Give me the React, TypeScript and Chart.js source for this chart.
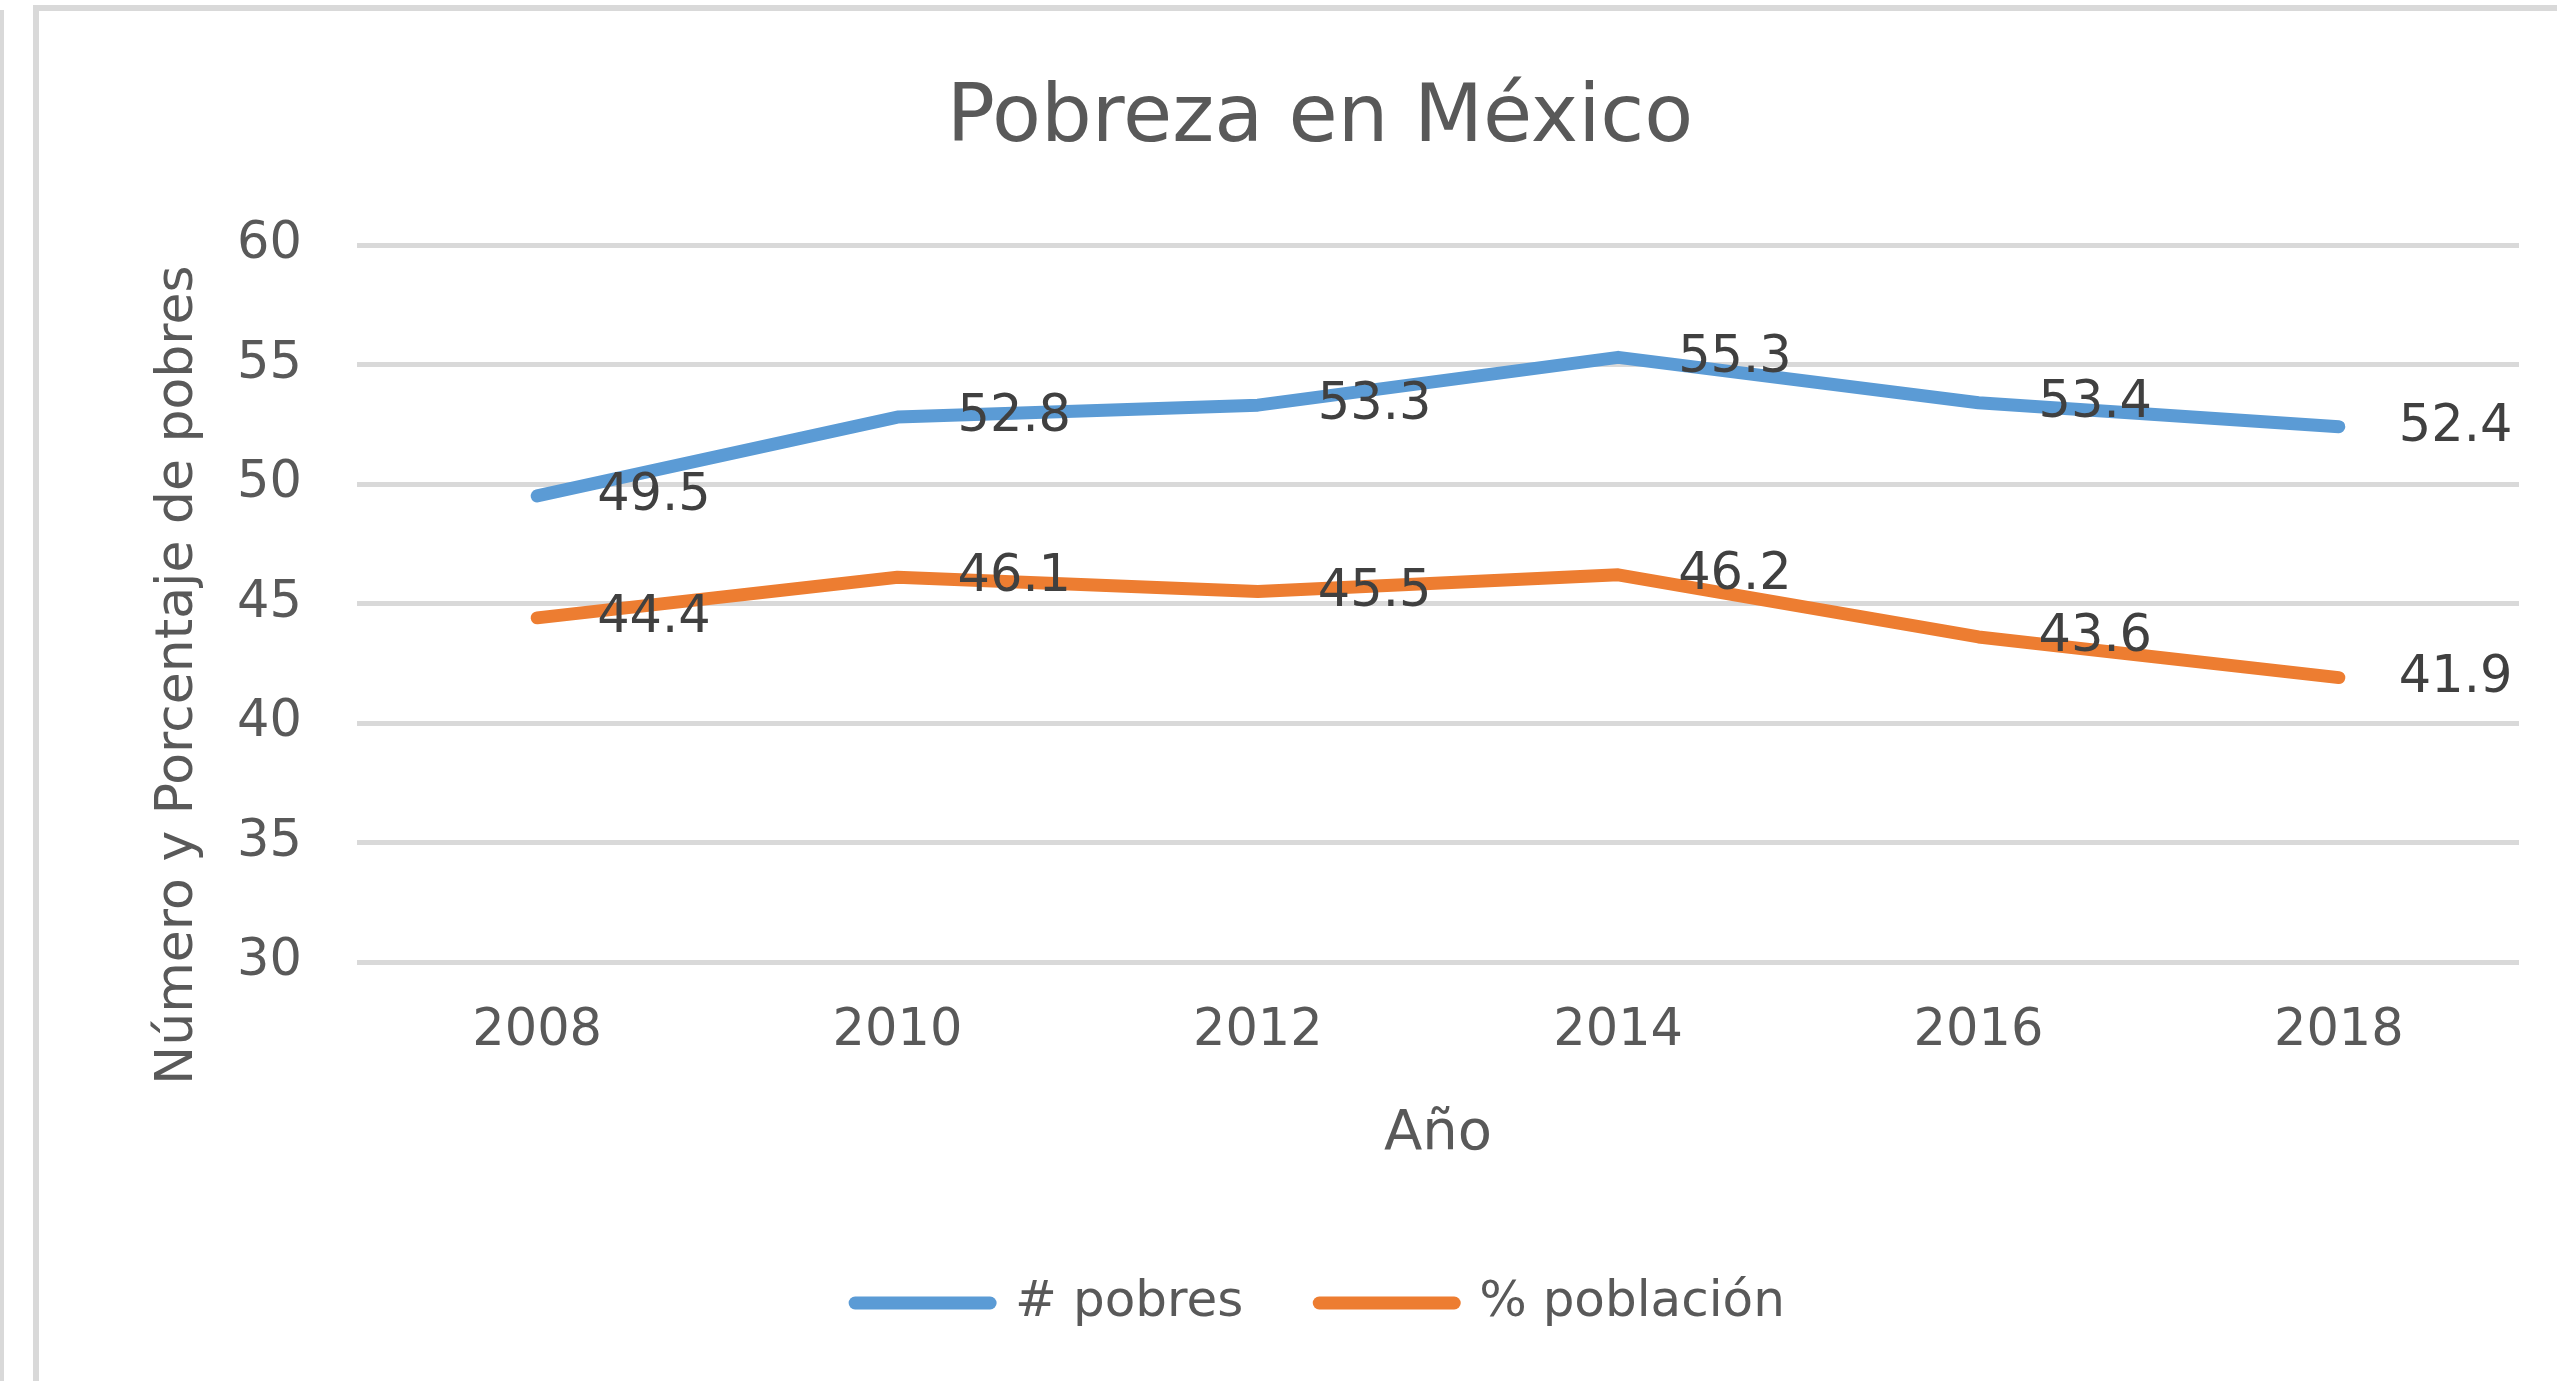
import React, { useEffect, useRef } from "react";
import { Chart, registerables } from "chart.js";

Chart.register(...registerables);

const years = ["2008", "2010", "2012", "2014", "2016", "2018"];
const pobres = [49.5, 52.8, 53.3, 55.3, 53.4, 52.4];
const poblacion = [44.4, 46.1, 45.5, 46.2, 43.6, 41.9];
const seriesNames = ["# pobres", "% población"];
const seriesColors = ["#5B9BD5", "#ED7D31"];
const chartTitle = "Pobreza en México";
const xTitle = "Año";
const yTitle = "Número y Porcentaje de pobres";
const yMin = 30;
const yMax = 60;
const yStep = 5;

const FONT = "'DejaVu Sans', sans-serif";
const TEXT = "#595959";
const LINE_W = 13;

const valueLabels = {
  id: "valueLabels",
  afterDatasetsDraw(chart: any) {
    const ctx = chart.ctx;
    ctx.save();
    ctx.font = `51px ${FONT}`;
    ctx.fillStyle = "#404040";
    ctx.textAlign = "left";
    ctx.textBaseline = "middle";
    chart.data.datasets.forEach((ds: any, i: number) => {
      const meta = chart.getDatasetMeta(i);
      meta.data.forEach((pt: any, j: number) => {
        ctx.fillText(Number(ds.data[j]).toFixed(1), pt.x + 60, pt.y + 1);
      });
    });
    ctx.restore();
  },
};

const yTitlePlugin = {
  id: "yTitle",
  afterDraw(chart: any) {
    const ctx = chart.ctx;
    ctx.save();
    ctx.translate(192, 675);
    ctx.rotate(-Math.PI / 2);
    ctx.font = `52px ${FONT}`;
    ctx.fillStyle = TEXT;
    ctx.textAlign = "center";
    ctx.textBaseline = "alphabetic";
    ctx.fillText(yTitle, 0, 0);
    ctx.restore();
  },
};

export default function App() {
  const ref = useRef<HTMLCanvasElement | null>(null);

  useEffect(() => {
    if (!ref.current) return;
    const baseGen = (Chart as any).defaults.plugins.legend.labels.generateLabels;
    const chart = new Chart(ref.current, {
      type: "line",
      data: {
        labels: years,
        datasets: [pobres, poblacion].map((d, i) => ({
          label: seriesNames[i],
          data: d,
          borderColor: seriesColors[i],
          backgroundColor: seriesColors[i],
          borderWidth: LINE_W,
          borderCapStyle: "round",
          borderJoinStyle: "round",
          pointRadius: 0,
          pointHoverRadius: 0,
          tension: 0,
          fill: false,
        })),
      },
      options: {
        responsive: false,
        animation: false,
        events: [],
        devicePixelRatio: 1,
        layout: { padding: { left: 121, right: 38, top: 72, bottom: 43 } },
        plugins: {
          tooltip: { enabled: false },
          title: {
            display: true,
            text: chartTitle,
            color: TEXT,
            font: { family: FONT, size: 80, weight: "normal" },
            padding: { top: 0, bottom: 77 },
          },
          legend: {
            position: "bottom",
            labels: {
              usePointStyle: true,
              pointStyle: "line",
              pointStyleWidth: 135,
              padding: 76,
              color: TEXT,
              font: { family: FONT, size: 50 },
              generateLabels: (c: any) =>
                baseGen(c).map((l: any, i: number) => ({
                  ...l,
                  lineCap: "round",
                  lineWidth: LINE_W,
                  strokeStyle: seriesColors[i],
                  fillStyle: seriesColors[i],
                })),
            },
          },
        },
        scales: {
          x: {
            offset: true,
            grid: { display: false, drawTicks: false },
            border: { display: false },
            ticks: {
              padding: 39,
              color: TEXT,
              maxRotation: 0,
              font: { family: FONT, size: 51 },
            },
            title: {
              display: true,
              text: xTitle,
              color: TEXT,
              font: { family: FONT, size: 56 },
              padding: { top: 0, bottom: 34 },
            },
            afterFit: (s: any) => {
              s.height = 240;
            },
          },
          y: {
            min: yMin,
            max: yMax,
            ticks: {
              stepSize: yStep,
              padding: 55,
              color: TEXT,
              font: { family: FONT, size: 51 },
            },
            grid: { color: "#D9D9D9", lineWidth: 5, drawTicks: false },
            border: { display: false },
            afterFit: (s: any) => {
              s.width = 236;
            },
          },
        },
      },
      plugins: [valueLabels, yTitlePlugin],
    } as any);
    return () => chart.destroy();
  }, []);

  return (
    <div
      style={{
        position: "fixed",
        left: 0,
        top: 0,
        width: 2557,
        height: 1381,
        background: "#ffffff",
        overflow: "hidden",
      }}
    >
      <div
        style={{
          position: "absolute",
          left: 0,
          top: 10,
          width: 4,
          height: 1371,
          background: "#D9D9D9",
        }}
      />
      <div
        style={{
          position: "absolute",
          left: 33,
          top: 5,
          width: 2700,
          height: 1500,
          borderTop: "6px solid #D9D9D9",
          borderLeft: "6px solid #D9D9D9",
          boxSizing: "border-box",
        }}
      />
      <canvas
        ref={ref}
        width={2557}
        height={1381}
        style={{ position: "absolute", left: 0, top: 0 }}
      />
    </div>
  );
}
